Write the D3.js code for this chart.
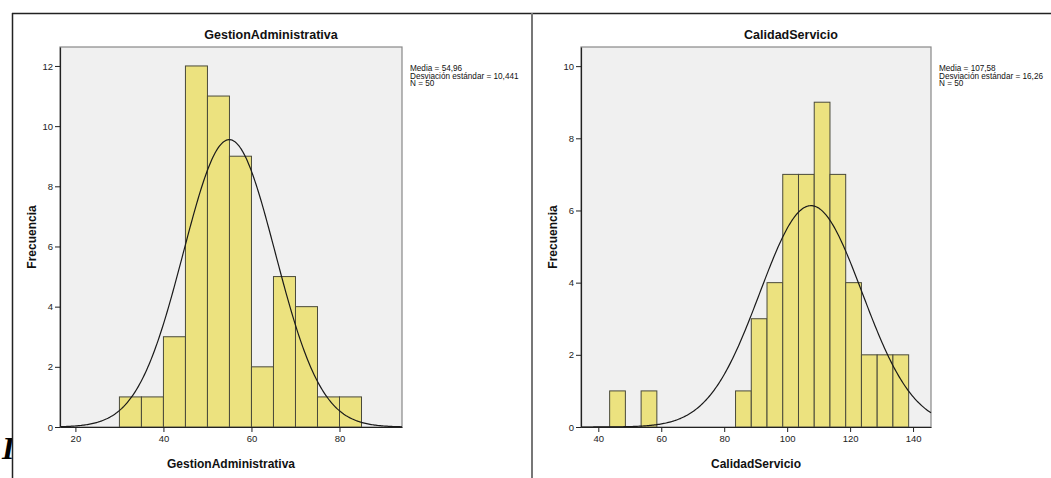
<!DOCTYPE html>
<html><head><meta charset="utf-8">
<script src="https://cdn.jsdelivr.net/npm/d3@7"></script>
<style>body{margin:0;background:#fff}svg{display:block}</style>
</head><body>
<svg id="c" width="1051" height="478" font-family="'Liberation Sans',Arial,sans-serif"></svg>
<script>
// ---- data ----
const gaBinStarts = [30,35,40,45,50,55,60,65,70,75,80];
const gaCounts    = [1,1,3,12,11,9,2,5,4,1,1];
const gaTicksX    = [20,40,60,80];
const gaTicksY    = [0,2,4,6,8,10,12];
const gaStats     = {mean:54.96, sd:10.441, n:50, width:5};
const gaLegend    = ["Media = 54,96","Desviación estándar = 10,441","N = 50"];

const csBinStarts = [43.6,48.6,53.6,83.6,88.6,93.6,98.6,103.6,108.6,113.6,118.6,123.6,128.6,133.6];
const csCounts    = [1,0,1,1,3,4,7,7,9,7,4,2,2,2];
const csTicksX    = [40,60,80,100,120,140];
const csTicksY    = [0,2,4,6,8,10];
const csStats     = {mean:107.58, sd:16.26, n:50, width:5};
const csLegend    = ["Media = 107,58","Desviación estándar = 16,26","N = 50"];

const svg = d3.select("#c");

// stray glyph at left edge
svg.append("text").attr("x",2).attr("y",459)
  .style("font-family","'Liberation Serif','DejaVu Serif',serif")
  .style("font-weight","bold").style("font-style","italic").style("font-size","32px").text("I");
svg.append("rect").attr("x",13).attr("y",14).attr("width",1040).attr("height",470).attr("fill","#fff");
// frame
svg.append("line").attr("x1",12).attr("x2",1051).attr("y1",13.5).attr("y2",13.5).attr("stroke","#222").attr("stroke-width",1.5);
svg.append("line").attr("x1",12.5).attr("x2",12.5).attr("y1",13).attr("y2",478).attr("stroke","#222").attr("stroke-width",1.5);
svg.append("line").attr("x1",532).attr("x2",532).attr("y1",13).attr("y2",478).attr("stroke","#777").attr("stroke-width",2);

function panel(o){
  const g = svg.append("g");
  const x = d3.scaleLinear().domain(o.xDomain).range([o.x0,o.x1]);
  const y = d3.scaleLinear().domain(o.yDomain).range([o.y1,o.y0]);
  g.append("rect").attr("x",o.x0).attr("y",o.y0).attr("width",o.x1-o.x0).attr("height",o.y1-o.y0)
    .attr("fill","#f0f0f0").attr("stroke","#888").attr("stroke-width",1.2);
  const bins = o.starts.map((s,i)=>({s, c:o.counts[i]})).filter(d=>d.c>0);
  g.selectAll("rect.bar").data(bins).join("rect").attr("class","bar")
    .attr("x",d=>x(d.s)).attr("width",d=>x(d.s+o.stats.width)-x(d.s))
    .attr("y",d=>y(d.c)).attr("height",d=>y(0)-y(d.c))
    .attr("fill","#ece27f").attr("stroke","#4a4a3a").attr("stroke-width",1);
  // normal curve
  const st=o.stats, k=st.n*st.width/(st.sd*Math.sqrt(2*Math.PI));
  const pts = d3.range(0,301).map(i=>{const v=o.xDomain[0]+(o.xDomain[1]-o.xDomain[0])*i/300;
    return [v, k*Math.exp(-0.5*((v-st.mean)/st.sd)**2)];});
  g.append("path").datum(pts).attr("fill","none").attr("stroke","#1a1a1a").attr("stroke-width",1.2)
    .attr("d",d3.line().x(d=>x(d[0])).y(d=>y(d[1])));
  // axes
  const ay = g.append("g").attr("transform",`translate(${o.x0},0)`)
    .call(d3.axisLeft(y).tickValues(o.ticksY).tickSizeInner(5).tickSizeOuter(0).tickPadding(2).tickFormat(d3.format("d")));
  const ax = g.append("g").attr("transform",`translate(0,${o.y1})`)
    .call(d3.axisBottom(x).tickValues(o.ticksX).tickSizeInner(5).tickSizeOuter(0).tickPadding(3).tickFormat(d3.format("d")));
  [ay,ax].forEach(a=>{a.select(".domain").attr("stroke","#222").attr("stroke-width",1.2);
    a.selectAll(".tick line").attr("stroke","#222");
    a.selectAll(".tick text").attr("font-size",9.5).attr("fill","#222").attr("font-family","'Liberation Sans',Arial,sans-serif");});
  // titles
  g.append("text").attr("x",o.titleX).attr("y",39).attr("text-anchor","middle")
    .attr("font-size",12.5).attr("font-weight","bold").attr("fill","#111").text(o.title);
  g.append("text").attr("x",(o.x0+o.x1)/2).attr("y",468).attr("text-anchor","middle")
    .attr("font-size",12).attr("font-weight","bold").attr("fill","#111").text(o.title);
  g.append("text").attr("transform",`translate(${o.x0-24},237) rotate(-90)`).attr("text-anchor","middle")
    .attr("font-size",12).attr("font-weight","bold").attr("fill","#111").text("Frecuencia");
  g.selectAll("text.leg").data(o.legend).join("text").attr("class","leg")
    .attr("x",o.x1+8).attr("y",(d,i)=>71+i*7.5).attr("font-size",8.2).attr("fill","#111").text(d=>d);
}

panel({x0:60,x1:402,y0:47,y1:427,xDomain:[16.5,94.2],yDomain:[0,12.63],
  starts:gaBinStarts,counts:gaCounts,ticksX:gaTicksX,ticksY:gaTicksY,stats:gaStats,legend:gaLegend,
  title:"GestionAdministrativa",titleX:271});
panel({x0:581,x1:931,y0:47,y1:427,xDomain:[34.5,145.7],yDomain:[0,10.53],
  starts:csBinStarts,counts:csCounts,ticksX:csTicksX,ticksY:csTicksY,stats:csStats,legend:csLegend,
  title:"CalidadServicio",titleX:791});
</script>
</body></html>
